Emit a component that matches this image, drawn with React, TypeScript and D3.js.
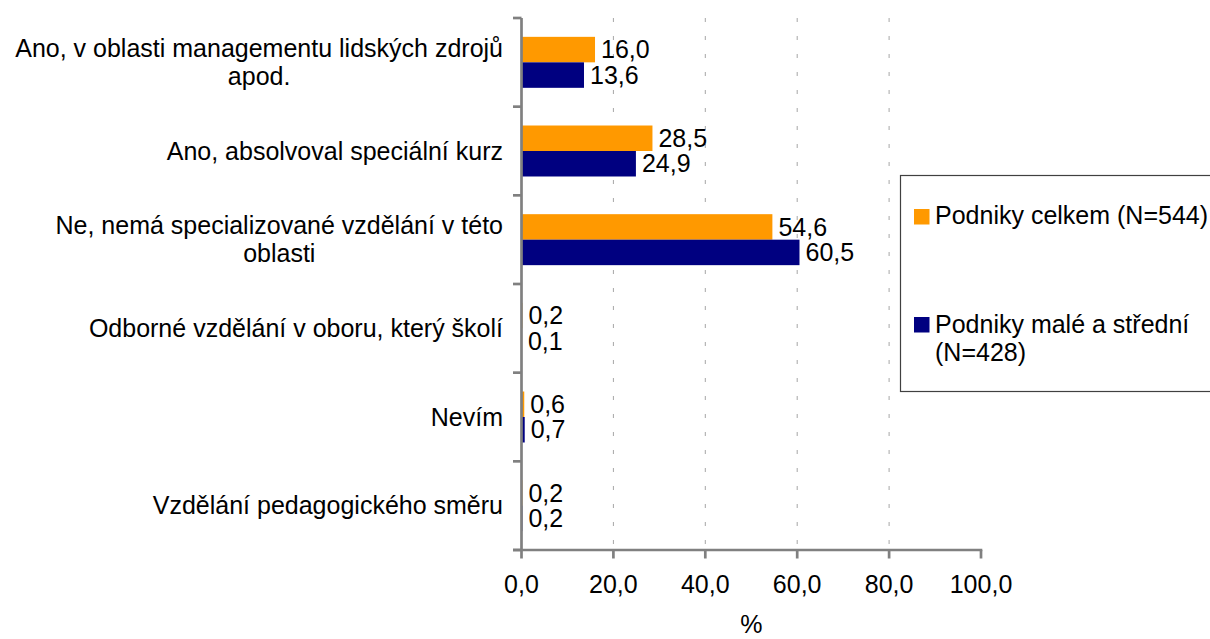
import React from "react";
import * as d3 from "d3";

const categories: string[][] = [
  ["Ano, v oblasti managementu lidských zdrojů", "apod."],
  ["Ano, absolvoval speciální kurz"],
  ["Ne, nemá specializované vzdělání v této", "oblasti"],
  ["Odborné vzdělání v oboru, který školí"],
  ["Nevím"],
  ["Vzdělání pedagogického směru"],
];
const seriesNames = ["Podniky celkem (N=544)", "Podniky malé a střední (N=428)"];
const celkem = [16.0, 28.5, 54.6, 0.2, 0.6, 0.2];
const maleStredni = [13.6, 24.9, 60.5, 0.1, 0.7, 0.2];
const xTicks = [0, 20, 40, 60, 80, 100];
const colors = ["#FF9900", "#000080"];

const W = 1210;
const H = 639;
const FONT = "'Liberation Sans', Arial, sans-serif";
const FS = 25;

let measureCtx: CanvasRenderingContext2D | null = null;
function textWidth(s: string): number {
  if (!measureCtx) {
    const c = document.createElement("canvas");
    measureCtx = c.getContext("2d");
  }
  if (!measureCtx) return s.length * FS * 0.5;
  measureCtx.font = `${FS}px ${FONT}`;
  return measureCtx.measureText(s).width;
}

export default function App() {
  const left = 521.5;
  const right = 981;
  const top = 18;
  const bottom = 550;

  const x = d3.scaleLinear().domain([0, 100]).range([left, right]);
  const keys = categories.map((_, i) => String(i));
  const y = d3
    .scaleBand<string>()
    .domain(keys)
    .range([top, bottom])
    .paddingInner(0.425)
    .paddingOuter(0.2125);
  const sub = d3.scaleBand<string>().domain(["0", "1"]).range([0, y.bandwidth()]);
  const series = [celkem, maleStredni];
  const step = y.step();
  const boundaries = d3.range(categories.length + 1).map((i) => top + i * step);
  const fmt = (v: number) => v.toFixed(1).replace(".", ",");

  const labelRight = 503;
  const lineH = 28;

  return (
    <svg
      width={W}
      height={H}
      style={{ position: "absolute", left: 0, top: 0, background: "#fff" }}
      fontFamily={FONT}
    >
      <rect x={0} y={0} width={W} height={H} fill="#fff" />
      {/* gridlines */}
      {xTicks
        .filter((t) => t > 0 && t < 100)
        .map((t) => (
          <line
            key={"g" + t}
            x1={x(t)}
            x2={x(t)}
            y1={top}
            y2={bottom}
            stroke="#a6a6a6"
            strokeWidth={1}
            strokeDasharray="4,14"
          />
        ))}
      {/* bars */}
      {series.map((vals, si) =>
        vals.map((v, ci) => {
          const by = (y(String(ci)) as number) + (sub(String(si)) as number);
          return (
            <rect
              key={`b${si}-${ci}`}
              x={x(0)}
              y={by}
              width={x(v) - x(0)}
              height={sub.bandwidth()}
              fill={colors[si]}
            />
          );
        })
      )}
      {/* value labels */}
      {series.map((vals, si) =>
        vals.map((v, ci) => {
          const by = (y(String(ci)) as number) + (sub(String(si)) as number);
          return (
            <text
              key={`l${si}-${ci}`}
              x={x(v) + 6}
              y={by + sub.bandwidth() / 2}
              dy="0.35em"
              fontSize={FS}
              fill="#000"
            >
              {fmt(v)}
            </text>
          );
        })
      )}
      {/* axes */}
      <line x1={left} x2={left} y1={top} y2={bottom} stroke="#808080" strokeWidth={2.7} />
      <line x1={513} x2={right + 1.3} y1={bottom} y2={bottom} stroke="#808080" strokeWidth={2.7} />
      {boundaries.map((b, i) => (
        <line key={"yt" + i} x1={513} x2={left} y1={b} y2={b} stroke="#808080" strokeWidth={2.7} />
      ))}
      {xTicks.map((t) => (
        <line key={"xt" + t} x1={x(t)} x2={x(t)} y1={bottom} y2={bottom + 8.5} stroke="#808080" strokeWidth={2.7} />
      ))}
      {xTicks.map((t) => (
        <text key={"xl" + t} x={x(t)} y={593} textAnchor="middle" fontSize={FS} fill="#000">
          {fmt(t)}
        </text>
      ))}
      <text x={(left + right) / 2} y={633} textAnchor="middle" fontSize={FS} fill="#000">
        %
      </text>
      {/* category labels */}
      {categories.map((lines, ci) => {
        const cy = (y(String(ci)) as number) + y.bandwidth() / 2;
        const maxW = Math.max(...lines.map(textWidth));
        const cx = labelRight - maxW / 2;
        const y0 = cy - ((lines.length - 1) * lineH) / 2;
        return (
          <text key={"c" + ci} fontSize={FS} fill="#000" textAnchor="middle">
            {lines.map((ln, li) => (
              <tspan key={li} x={cx} y={y0 + li * lineH} dy="0.35em">
                {ln}
              </tspan>
            ))}
          </text>
        );
      })}
      {/* legend */}
      <rect x={900.5} y={175.5} width={320} height={216} fill="#fff" stroke="#404040" strokeWidth={1.2} />
      <rect x={914} y={209} width={15.5} height={15.5} fill={colors[0]} />
      <text x={935} y={223.5} fontSize={FS} fill="#000">
        {seriesNames[0]}
      </text>
      <rect x={914} y={317} width={15.5} height={15.5} fill={colors[1]} />
      <text fontSize={FS} fill="#000">
        <tspan x={935} y={333}>Podniky malé a střední</tspan>
        <tspan x={935} y={361}>(N=428)</tspan>
      </text>
    </svg>
  );
}
